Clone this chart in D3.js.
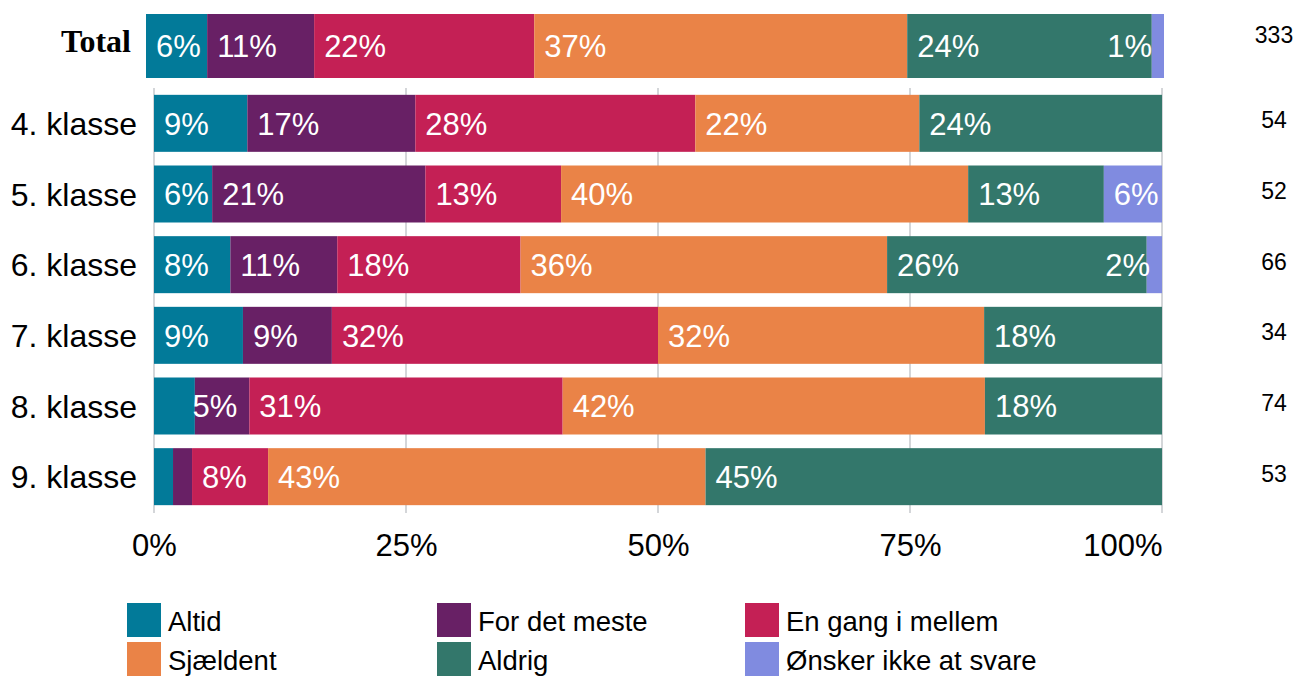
<!DOCTYPE html>
<html lang="da">
<head>
<meta charset="utf-8">
<script src="https://cdn.jsdelivr.net/npm/d3@7"></script>
<style>
  html, body { margin: 0; padding: 0; background: #fff; }
  svg { display: block; }
</style>
</head>
<body>
<svg id="chart" width="1294" height="677"></svg>
<script>
// Classes (rows) and number of respondents per class
const categories = ["4. klasse", "5. klasse", "6. klasse", "7. klasse", "8. klasse", "9. klasse"];
const respondents = [54, 52, 66, 34, 74, 53];

// Answer options, in stacking order
const answers = ["Altid", "For det meste", "En gang i mellem", "Sjældent", "Aldrig", "Ønsker ikke at svare"];
const answerColors = ["#027a99", "#682065", "#c42055", "#ea8347", "#33776b", "#808be0"];

// Number of answers per class, one array per answer option
const altid       = [5, 3, 5, 3, 3, 1];
const forDetMeste = [9, 11, 7, 3, 4, 1];
const enGang      = [15, 7, 12, 11, 23, 4];
const sjaeldent   = [12, 21, 24, 11, 31, 23];
const aldrig      = [13, 7, 17, 6, 13, 24];
const oensker     = [0, 3, 1, 0, 0, 0];

const totalLabel = "Total";
const tickValues = [0, 25, 50, 75, 100];

const seriesCounts = [altid, forDetMeste, enGang, sjaeldent, aldrig, oensker];

// Build row records (percent shares) for each class and for the total
function makeRow(name, counts, n) {
  const row = { name, n };
  answers.forEach((a, i) => { row[a] = counts[i] / n * 100; });
  return row;
}
const rows = categories.map((c, ci) =>
  makeRow(c, seriesCounts.map(s => s[ci]), respondents[ci]));
const totalN = d3.sum(respondents);
const totalRow = makeRow(totalLabel, seriesCounts.map(s => d3.sum(s)), totalN);

const stack = d3.stack().keys(answers);
const color = d3.scaleOrdinal().domain(answers).range(answerColors);

const svg = d3.select("#chart");
const sans = "'Liberation Sans', Arial, sans-serif";

// Main panel scales
const x = d3.scaleLinear().domain([0, 100]).range([154, 1162]);
const y = d3.scaleBand().domain(categories).range([88, 512]).paddingInner(0.1934).paddingOuter(0.0967);

// Total panel scales
const xT = d3.scaleLinear().domain([0, 100]).range([146, 1164]);
const yT = d3.scaleBand().domain([totalLabel]).range([14, 78]);

// Gridlines
svg.append("g")
  .selectAll("line")
  .data(tickValues)
  .join("line")
  .attr("x1", d => x(d)).attr("x2", d => x(d))
  .attr("y1", 88).attr("y2", 513)
  .attr("stroke", "#c6c9cc")
  .attr("stroke-width", 1.5);

// Draw one stacked panel
function drawPanel(data, xs, ys, cls) {
  const layers = stack(data);
  const g = svg.append("g").attr("class", cls);
  g.selectAll("g.layer")
    .data(layers)
    .join("g")
    .attr("class", "layer")
    .attr("fill", d => color(d.key))
    .selectAll("rect")
    .data(d => d.map(p => ({ p, key: d.key })))
    .join("rect")
    .attr("x", d => xs(d.p[0]))
    .attr("y", d => ys(d.p.data.name))
    .attr("width", d => xs(d.p[1]) - xs(d.p[0]))
    .attr("height", ys.bandwidth());

  // Percent labels: small segments stay unlabelled, the no-answer share is always noted
  const labels = [];
  layers.forEach(layer => {
    layer.forEach(p => {
      const v = p[1] - p[0];
      if (v <= 0) return;
      const pct = Math.round(v);
      if (pct < 5 && layer.key !== answers[answers.length - 1]) return;
      labels.push({ x0: xs(p[0]), x1: xs(p[1]), name: p.data.name, text: pct + "%" });
    });
  });
  const fs = 31;
  const t = g.selectAll("text.val")
    .data(labels)
    .join("text")
    .attr("class", "val")
    .attr("font-family", sans)
    .attr("font-size", fs)
    .attr("fill", "#fff")
    .attr("y", d => ys(d.name) + ys.bandwidth() / 2 + fs * 0.37)
    .text(d => d.text);
  t.each(function(d) {
    const w = this.getComputedTextLength();
    const sel = d3.select(this);
    if (w + 10 > d.x1 - d.x0) {
      sel.attr("text-anchor", "end").attr("x", d.x1 - 12);
    } else {
      sel.attr("text-anchor", "start").attr("x", d.x0 + 10);
    }
  });
}

drawPanel(rows, x, y, "classes");
drawPanel([totalRow], xT, yT, "total");

// Category labels
svg.append("g")
  .selectAll("text")
  .data(categories)
  .join("text")
  .attr("x", 137)
  .attr("y", d => y(d) + y.bandwidth() / 2 + 11.5)
  .attr("text-anchor", "end")
  .attr("font-family", sans)
  .attr("font-size", 32)
  .attr("fill", "#000")
  .text(d => d);

// Total label
svg.append("text")
  .attr("x", 131)
  .attr("y", 52)
  .attr("text-anchor", "end")
  .attr("font-family", "'Liberation Serif', 'Times New Roman', serif")
  .attr("font-weight", "bold")
  .attr("font-size", 32)
  .attr("fill", "#000")
  .text(totalLabel);

// Respondent counts on the right
svg.append("g")
  .selectAll("text")
  .data(rows)
  .join("text")
  .attr("x", 1274)
  .attr("y", d => y(d.name) + y.bandwidth() / 2 + 5)
  .attr("text-anchor", "middle")
  .attr("font-family", sans)
  .attr("font-size", 23)
  .attr("fill", "#000")
  .text(d => d.n);
svg.append("text")
  .attr("x", 1274)
  .attr("y", 43)
  .attr("text-anchor", "middle")
  .attr("font-family", sans)
  .attr("font-size", 23)
  .attr("fill", "#000")
  .text(totalN);

// Percent axis
const axis = d3.axisBottom(x)
  .tickValues(tickValues)
  .tickFormat(d => d + "%")
  .tickSize(0)
  .tickPadding(0);
const axG = svg.append("g").attr("transform", "translate(0,534)").call(axis);
axG.select(".domain").remove();
axG.selectAll("text")
  .attr("font-family", sans)
  .attr("font-size", 31)
  .attr("fill", "#000")
  .attr("dy", "0.71em")
  .attr("text-anchor", (d, i) => i === tickValues.length - 1 ? "end" : "middle")
  .attr("x", (d, i) => i === tickValues.length - 1 ? x(100) - x(d) : 0);

// Legend: three columns, two rows
const legendCols = [127, 437, 745];
const legendRows = [603, 642];
const leg = svg.append("g")
  .selectAll("g")
  .data(answers)
  .join("g")
  .attr("transform", (d, i) => `translate(${legendCols[i % 3]},${legendRows[Math.floor(i / 3)]})`);
leg.append("rect")
  .attr("width", 34)
  .attr("height", 34)
  .attr("fill", d => color(d));
leg.append("text")
  .attr("x", 41)
  .attr("y", 27.5)
  .attr("font-family", sans)
  .attr("font-size", 27.5)
  .attr("fill", "#000")
  .text(d => d);
</script>
</body>
</html>
